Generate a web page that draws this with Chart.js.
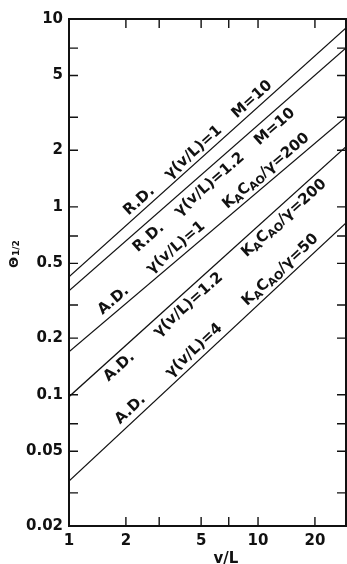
<!DOCTYPE html>
<html>
<head>
<meta charset="utf-8">
<script src="https://cdn.jsdelivr.net/npm/chart.js@4.4.0/dist/chart.umd.min.js"></script>
<style>
    html, body { margin: 0; padding: 0; background: #fff; }
    #wrap { width: 347px; height: 564px; }
</style>
</head>
<body>
<div id="wrap"><canvas id="myChart" width="347" height="564"></canvas></div>
<script>
// axes (log-log)
const x_range = [1, 29.2];
const y_range = [0.02, 10];
const x_ticks = [1, 2, 3, 5, 7, 10, 20];
const x_labels = [1, 2, 5, 10, 20];
const y_ticks = [0.02, 0.03, 0.05, 0.07, 0.1, 0.2, 0.3, 0.5, 0.7, 1, 2, 3, 5, 7, 10];
const y_labels = [0.02, 0.05, 0.1, 0.2, 0.5, 1, 2, 5, 10];

// theta_1/2 read at v/L = 1 and at the right edge of the plot
const rd_g1 = [0.424, 8.97];
const rd_g12 = [0.357, 7.02];
const ad_g1 = [0.169, 3.01];
const ad_g12 = [0.0976, 2.09];
const ad_g4 = [0.0347, 0.82];

const series = [rd_g1, rd_g12, ad_g1, ad_g12, ad_g4];

// text written along each line; _{..} is a subscript
const label_text = [
    ['R.D.', 'γ(v/L)=1', 'M=10'],
    ['R.D.', 'γ(v/L)=1.2', 'M=10'],
    ['A.D.', 'γ(v/L)=1', 'K_{A}C_{AO}/γ=200'],
    ['A.D.', 'γ(v/L)=1.2', 'K_{A}C_{AO}/γ=200'],
    ['A.D.', 'γ(v/L)=4', 'K_{A}C_{AO}/γ=50'],
];
// where the label sits: v/L under its centre, distance from the line (+ above), gap between words
const label_place = [
    { at: 5.2, off: 11, gap: 19 },
    { at: 5.3, off: -11, gap: 19 },
    { at: 5.6, off: 12, gap: 28 },
    { at: 5.4, off: -10, gap: 31 },
    { at: 6.6, off: 12, gap: 33 },
];

const ink = '#111';
const font_family = '"DejaVu Sans", sans-serif';

function runs(str) {
    // split 'K_{A}C_{AO}' into normal / subscript pieces
    const out = [];
    const re = /_\{([^}]*)\}/g;
    let last = 0, m;
    while ((m = re.exec(str)) !== null) {
        if (m.index > last) out.push({ t: str.slice(last, m.index), sub: false });
        out.push({ t: m[1], sub: true });
        last = re.lastIndex;
    }
    if (last < str.length) out.push({ t: str.slice(last), sub: false });
    return out;
}

function drawRich(ctx, words, gap, size) {
    const big = `bold ${size}px ${font_family}`;
    const small = `bold ${Math.round(size * 0.7)}px ${font_family}`;
    const pieces = [];
    let total = 0;
    words.forEach((w, i) => {
        runs(w).forEach(r => {
            ctx.font = r.sub ? small : big;
            const wd = ctx.measureText(r.t).width;
            pieces.push({ ...r, x: total, w: wd });
            total += wd;
        });
        if (i < words.length - 1) total += gap;
    });
    const cap = size * 0.73;
    let x0 = -total / 2;
    ctx.textAlign = 'left';
    ctx.textBaseline = 'alphabetic';
    pieces.forEach(p => {
        ctx.font = p.sub ? small : big;
        ctx.fillText(p.t, x0 + p.x, cap / 2 + (p.sub ? size * 0.18 : 0));
    });
}

const framePlugin = {
    id: 'framePlugin',
    afterDatasetsDraw(chart) {
        const { ctx, chartArea: a, scales: { x, y } } = chart;
        ctx.save();
        ctx.strokeStyle = ink;
        ctx.fillStyle = ink;

        ctx.lineWidth = 2;
        ctx.strokeRect(a.left, a.top, a.right - a.left, a.bottom - a.top);

        ctx.lineWidth = 1.4;
        ctx.beginPath();
        x_ticks.forEach(v => {
            const px = x.getPixelForValue(v);
            if (px <= a.left + 1) return;
            ctx.moveTo(px, a.bottom); ctx.lineTo(px, a.bottom - 9);
            ctx.moveTo(px, a.top); ctx.lineTo(px, a.top + 9);
        });
        y_ticks.forEach(v => {
            const py = y.getPixelForValue(v);
            if (py <= a.top + 1 || py >= a.bottom - 1) return;
            ctx.moveTo(a.left, py); ctx.lineTo(a.left + 9, py);
            ctx.moveTo(a.right, py); ctx.lineTo(a.right - 9, py);
        });
        ctx.stroke();

        // labels along the lines
        label_text.forEach((words, i) => {
            const pl = label_place[i];
            const d = chart.data.datasets[i].data;
            const x0 = x.getPixelForValue(d[0].x), y0 = y.getPixelForValue(d[0].y);
            const x1 = x.getPixelForValue(d[1].x), y1 = y.getPixelForValue(d[1].y);
            const ang = Math.atan2(y1 - y0, x1 - x0);
            const px = x.getPixelForValue(pl.at);
            const py = y0 + (px - x0) / (x1 - x0) * (y1 - y0);
            ctx.save();
            ctx.translate(px + pl.off * Math.sin(ang), py - pl.off * Math.cos(ang));
            ctx.rotate(ang);
            drawRich(ctx, words, pl.gap, 15);
            ctx.restore();
        });

        // axis titles
        ctx.textAlign = 'center';
        ctx.textBaseline = 'alphabetic';
        ctx.font = `bold 15px ${font_family}`;
        ctx.fillText('v/L', 226, 563);

        ctx.save();
        ctx.translate(18, 268);
        ctx.rotate(-Math.PI / 2);
        ctx.textAlign = 'left';
        ctx.font = `bold 13px ${font_family}`;
        ctx.fillText('Θ', 0, 0);
        const tw = ctx.measureText('Θ').width;
        ctx.font = `bold 9px ${font_family}`;
        ctx.fillText('1/2', tw + 1, 1);
        ctx.restore();

        ctx.restore();
    }
};

const datasets = series.map(vals => ({
    data: [{ x: x_range[0], y: vals[0] }, { x: x_range[1], y: vals[1] }],
    borderColor: ink,
    borderWidth: 1.2,
    pointRadius: 0,
    fill: false,
}));

const tick_font = { family: font_family, size: 15, weight: 'bold' };

const config = {
    type: 'line',
    data: { datasets: datasets },
    options: {
        responsive: false,
        animation: false,
        layout: { padding: { top: 19, right: 1, left: 0, bottom: 0 } },
        plugins: {
            legend: { display: false },
            tooltip: { enabled: false }
        },
        scales: {
            x: {
                type: 'logarithmic',
                min: x_range[0],
                max: x_range[1],
                afterBuildTicks: s => { s.ticks = x_ticks.map(v => ({ value: v })); },
                afterFit: s => { s.height = 38; },
                grid: { display: false, drawTicks: false },
                border: { display: false },
                ticks: {
                    autoSkip: false,
                    maxRotation: 0,
                    padding: 6,
                    color: ink,
                    font: tick_font,
                    callback: v => x_labels.includes(v) ? String(v) : ''
                }
            },
            y: {
                type: 'logarithmic',
                min: y_range[0],
                max: y_range[1],
                afterBuildTicks: s => { s.ticks = y_ticks.map(v => ({ value: v })); },
                afterFit: s => { s.width = 69; },
                grid: { display: false, drawTicks: false },
                border: { display: false },
                ticks: {
                    autoSkip: false,
                    padding: 6,
                    color: ink,
                    font: tick_font,
                    callback: v => y_labels.includes(v) ? String(v) : ''
                }
            }
        }
    },
    plugins: [framePlugin]
};

const ctx = document.getElementById('myChart').getContext('2d');
const myChart = new Chart(ctx, config);
</script>
</body>
</html>
